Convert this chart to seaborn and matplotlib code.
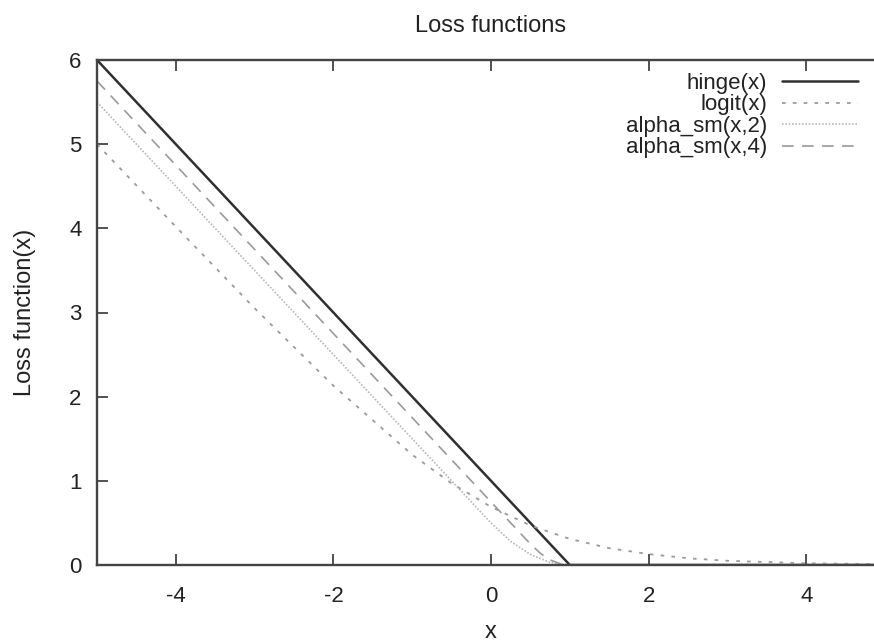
import matplotlib
matplotlib.use("Agg")
import matplotlib.pyplot as plt
import pandas as pd
import seaborn as sns

# values
hinge_x = [-5, 1, 5]
hinge_y = [6.0, 0.0, 0.0]

logit_x = [-5, -4, -3, -2, -1, -0.5, 0, 0.5, 1, 1.5, 2, 2.5, 3, 4, 5]
logit_y = [5.0, 4.02, 3.05, 2.13, 1.31, 0.97, 0.69, 0.47, 0.31, 0.20, 0.13, 0.08, 0.05, 0.02, 0.01]

sm2_x = [-5, 0, 0.25, 0.5, 0.75, 1, 5]
sm2_y = [5.5, 0.5, 0.28, 0.125, 0.03, 0.0, 0.0]

sm4_x = [-5, 0.5, 0.625, 0.75, 0.875, 1, 5]
sm4_y = [5.75, 0.25, 0.14, 0.06, 0.016, 0.0, 0.0]

labels = ["hinge(x)", "logit(x)", "alpha_sm(x,2)", "alpha_sm(x,4)"]

sns.set_style("ticks")
plt.rcParams["font.family"] = ["Liberation Sans", "DejaVu Sans"]
plt.rcParams["axes.unicode_minus"] = False

frames = []
for name, xs, ys in zip(labels, [hinge_x, logit_x, sm2_x, sm4_x], [hinge_y, logit_y, sm2_y, sm4_y]):
    frames.append(pd.DataFrame({"x": xs, "y": ys, "series": name}))
df = pd.concat(frames, ignore_index=True)

styles = {
    "hinge(x)": dict(color="#303030", linestyle="-", linewidth=1.8),
    "logit(x)": dict(color="#9a9a9a", linestyle=(0, (2, 4)), linewidth=1.3),
    "alpha_sm(x,2)": dict(color="#b8b8b8", linestyle=(0, (1, 1)), linewidth=1.2),
    "alpha_sm(x,4)": dict(color="#9a9a9a", linestyle=(0, (7, 5)), linewidth=1.2),
}

fs = 17

fig = plt.figure(figsize=(8.74, 6.42), dpi=100)
ax = fig.add_axes([97 / 874, 77 / 642, 788 / 874, 505 / 642])

for name in labels:
    sub = df[df["series"] == name]
    sns.lineplot(data=sub, x="x", y="y", ax=ax, label=name, sort=False,
                 estimator=None, **styles[name])

ax.set_xlim(-5, 5)
ax.set_ylim(0, 6)
ax.set_xticks([-4, -2, 0, 2, 4])
ax.set_yticks([0, 1, 2, 3, 4, 5, 6])
ax.tick_params(direction="in", length=8, width=1.2, colors="#333333",
               labelsize=16, labelcolor="#222222", top=True, right=True, pad=11)
ax.tick_params(axis="x", pad=15)
for sp in ax.spines.values():
    sp.set_color("#444444")
    sp.set_linewidth(1.7)

ax.set_title("Loss functions", fontsize=fs, color="#222222", pad=20)
ax.set_xlabel("x", fontsize=fs, color="#222222", labelpad=10)
ax.set_ylabel("Loss function(x)", fontsize=fs, color="#222222", labelpad=24)

leg = ax.legend(loc="upper right", bbox_to_anchor=(858 / 874, 1 - 73 / 642),
                bbox_transform=fig.transFigure, frameon=False, markerfirst=False,
                fontsize=16, handlelength=3.4, handletextpad=0.7,
                labelspacing=0.02, borderpad=0, borderaxespad=0)
for t in leg.get_texts():
    t.set_color("#222222")

fig.savefig("out.png", dpi=100)
